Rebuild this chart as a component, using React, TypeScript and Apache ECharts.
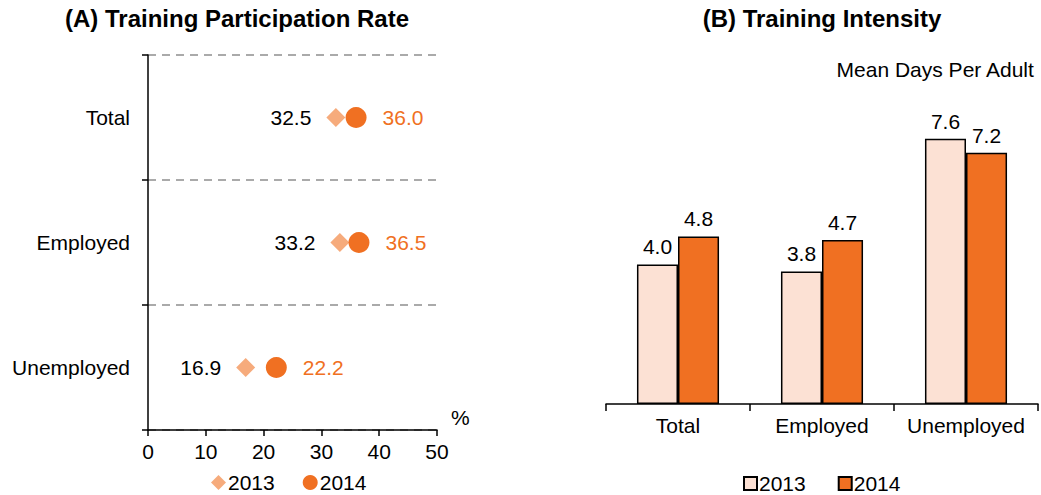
import React, { useEffect, useRef } from "react";
import * as echarts from "echarts";

const groups = ["Total", "Employed", "Unemployed"];
const rate2013 = [32.5, 33.2, 16.9];
const rate2014 = [36.0, 36.5, 22.2];
const intensity2013 = [4.0, 3.8, 7.6];
const intensity2014 = [4.8, 4.7, 7.2];
const rateTicks = [0, 10, 20, 30, 40, 50];

const FONT = "'Liberation Sans', Arial, sans-serif";
const C_LIGHT = "#F6AB7C";
const C_DARK = "#F07022";
const C_BAR_LIGHT = "#FCE1D4";
const FS = 21;

export default function App() {
  const ref = useRef<HTMLDivElement>(null);
  useEffect(() => {
    if (!ref.current) return;
    const chart = echarts.init(ref.current, null, { renderer: "svg" });
    const fmt = (p: any) => Number(p.value[0] ?? p.value).toFixed(1);
    chart.setOption({
      animation: false,
      textStyle: { fontFamily: FONT },
      title: [
        {
          text: "(A) Training Participation Rate",
          left: 237,
          top: 6,
          padding: 0,
          textAlign: "center",
          textStyle: { fontSize: 24, fontWeight: "bold", color: "#000", fontFamily: FONT },
        },
        {
          text: "(B) Training Intensity",
          left: 822,
          top: 6,
          padding: 0,
          textAlign: "center",
          textStyle: { fontSize: 24, fontWeight: "bold", color: "#000", fontFamily: FONT },
        },
      ],
      legend: [
        {
          left: 211,
          top: 472,
          padding: 0,
          orient: "horizontal",
          itemGap: 28,
          itemWidth: 15,
          itemHeight: 15,
          data: [
            { name: "A2013", icon: "diamond" },
            { name: "A2014", icon: "circle" },
          ],
          formatter: (n: string) => n.slice(1),
          textStyle: { fontSize: FS, color: "#000", fontFamily: FONT, padding: [0, 0, 0, -3] },
        },
        {
          left: 743,
          top: 473,
          padding: 0,
          itemGap: 32,
          itemWidth: 13,
          itemHeight: 13,
          data: [
            { name: "B2013", icon: "rect" },
            { name: "B2014", icon: "rect" },
          ],
          formatter: (n: string) => n.slice(1),
          textStyle: { fontSize: FS, color: "#000", fontFamily: FONT, padding: [0, 0, 0, -3] },
        },
      ],
      grid: [
        { left: 148, right: 604, top: 55, bottom: 65, containLabel: false },
        { left: 606, right: 3, top: 55, bottom: 91, containLabel: false },
      ],
      xAxis: [
        {
          gridIndex: 0,
          type: "value",
          min: rateTicks[0],
          max: rateTicks[rateTicks.length - 1],
          interval: rateTicks[1] - rateTicks[0],
          axisLine: { show: true, lineStyle: { color: "#000", width: 1.5 } },
          axisTick: { show: true, length: 6, lineStyle: { color: "#000", width: 1.5 } },
          axisLabel: { fontSize: FS, color: "#000", margin: 11, fontFamily: FONT },
          splitLine: { show: false },
        },
        {
          gridIndex: 1,
          type: "category",
          data: groups,
          axisLine: { show: true, lineStyle: { color: "#000", width: 1.5 } },
          axisTick: { show: true, length: 7, lineStyle: { color: "#000", width: 1.5 } },
          axisLabel: { fontSize: FS, color: "#000", margin: 11, fontFamily: FONT, interval: 0 },
        },
      ],
      yAxis: [
        {
          gridIndex: 0,
          type: "category",
          data: groups,
          inverse: true,
          axisLine: { show: true, lineStyle: { color: "#000", width: 1.5 } },
          axisTick: { show: true, length: 6, lineStyle: { color: "#000", width: 1.5 } },
          axisLabel: { fontSize: FS, color: "#000", margin: 18, fontFamily: FONT, interval: 0 },
          splitLine: { show: true, lineStyle: { color: "#8f8f8f", width: 1.5, type: [8, 6] } },
        },
        {
          gridIndex: 1,
          type: "value",
          min: 0,
          max: 10,
          show: false,
        },
      ],
      series: [
        {
          name: "A2013",
          type: "scatter",
          xAxisIndex: 0,
          yAxisIndex: 0,
          symbol: "diamond",
          symbolSize: 19,
          itemStyle: { color: C_LIGHT, opacity: 1 },
          data: rate2013.map((v, i) => [v, groups[i]]),
          label: {
            show: true,
            position: "left",
            distance: 15,
            color: "#000",
            fontSize: FS,
            fontFamily: FONT,
            formatter: fmt,
          },
          z: 3,
        },
        {
          name: "A2014",
          type: "scatter",
          xAxisIndex: 0,
          yAxisIndex: 0,
          symbol: "circle",
          symbolSize: 21,
          itemStyle: { color: C_DARK, opacity: 1 },
          data: rate2014.map((v, i) => [v, groups[i]]),
          label: {
            show: true,
            position: "right",
            distance: 16,
            color: C_DARK,
            fontSize: FS,
            fontFamily: FONT,
            formatter: fmt,
          },
          z: 4,
        },
        {
          name: "B2013",
          type: "bar",
          xAxisIndex: 1,
          yAxisIndex: 1,
          barGap: "0%",
          barCategoryGap: "43%",
          itemStyle: { color: C_BAR_LIGHT, borderColor: "#000", borderWidth: 1.5 },
          data: intensity2013,
          label: {
            show: true,
            position: "top",
            distance: 7,
            color: "#000",
            fontSize: FS,
            fontFamily: FONT,
            formatter: (p: any) => Number(p.value).toFixed(1),
          },
        },
        {
          name: "B2014",
          type: "bar",
          xAxisIndex: 1,
          yAxisIndex: 1,
          barGap: "0%",
          barCategoryGap: "43%",
          itemStyle: { color: C_DARK, borderColor: "#000", borderWidth: 1.5 },
          data: intensity2014,
          label: {
            show: true,
            position: "top",
            distance: 7,
            color: "#000",
            fontSize: FS,
            fontFamily: FONT,
            formatter: (p: any) => Number(p.value).toFixed(1),
          },
        },
      ],
      graphic: [
        {
          type: "text",
          right: 6,
          top: 59,
          style: { text: "Mean Days Per Adult", fontSize: FS, fill: "#000", fontFamily: FONT },
        },
        {
          type: "text",
          left: 451,
          top: 407,
          style: { text: "%", fontSize: FS, fill: "#000", fontFamily: FONT },
        },
      ],
    });
    return () => chart.dispose();
  }, []);
  return (
    <div
      ref={ref}
      style={{ position: "absolute", left: 0, top: 0, width: 1041, height: 495, overflow: "hidden" }}
    />
  );
}
